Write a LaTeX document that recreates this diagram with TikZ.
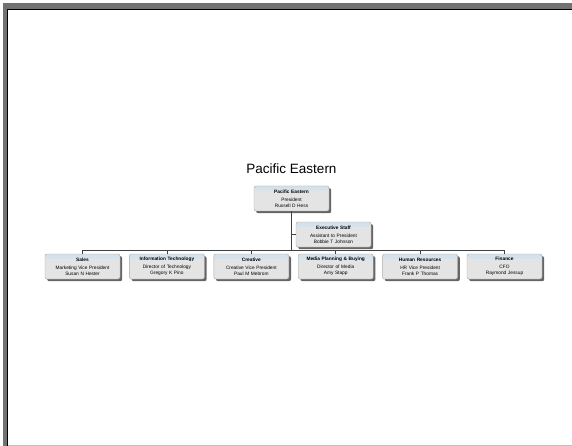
\documentclass[tikz,border=0pt]{standalone}
\usepackage{fontspec}
\setmainfont{Liberation Sans}
\usetikzlibrary{positioning, shadows}

\definecolor{boxfill}{HTML}{E4E4E4}
\definecolor{boxhead}{HTML}{D3E2EC}
\definecolor{boxline}{HTML}{A8A8A8}
\definecolor{framegray}{HTML}{727272}

\begin{document}
\begin{tikzpicture}[
  x=1pt, y=-1pt,
  node distance=9pt and 9pt,
  orgbox/.style={rectangle, rounded corners=2pt, draw=boxline, line width=0.4pt,
                 fill=boxfill, minimum width=75pt, minimum height=25pt,
                 text width=73pt, align=center, inner sep=1pt,
                 font=\fontsize{4.8}{5.8}\selectfont,
                 drop shadow={shadow xshift=2.2pt, shadow yshift=-2.2pt,
                              fill=black!60, opacity=1},
                 path picture={\fill[boxhead] (path picture bounding box.north west)
                   rectangle ([yshift=-4.5pt]path picture bounding box.north east);}},
  conn/.style={draw=black!75, line width=0.5pt},
  ttl/.style={font=\fontsize{13.5}{15}\selectfont}
]
\useasboundingbox (0,0) rectangle (572,446);

% window frame
\fill[framegray] (3,3) rectangle (572,10);
\fill[framegray] (3,3) rectangle (8,446);
\draw[black, line width=0.8pt] (7.4,446) -- (7.4,9.4) -- (572,9.4);
\draw[black!25, line width=0.8pt] (8,445) -- (572,445);

\node[ttl] (title) at (291.5,169) {Pacific Eastern};

\node[orgbox] (pe) at (291.5,198.5)
  {\textbf{Pacific Eastern}\\[2.5pt]President\\Russell D Hess};
\node[orgbox] (exec) at (333.5,234.5)
  {\textbf{Executive Staff}\\[2.5pt]Assistant to President\\Bobbie T Johnson};

\node[orgbox] (sales) at (82.5,266.5)
  {\textbf{Sales}\\[2.5pt]Marketing Vice President\\Susan N Hester};
\node[orgbox, right=of sales] (it)
  {\textbf{Information Technology}\\[2.5pt]Director of Technology\\Gregory K Pino};
\node[orgbox, right=of it] (creative)
  {\textbf{Creative}\\[2.5pt]Creative Vice President\\Paul M Mebrom};
\node[orgbox, right=of creative] (media)
  {\textbf{Media Planning \& Buying}\\[2.5pt]Director of Media\\Amy Stapp};
\node[orgbox, right=of media] (hr)
  {\textbf{Human Resources}\\[2.5pt]HR Vice President\\Frank P Thomas};
\node[orgbox, right=of hr] (finance)
  {\textbf{Finance}\\[2.5pt]CFO\\Raymond Jessup};

\coordinate (bus) at (0,250);

\draw[conn] (pe.south) -- (pe.south |- bus);
\draw[conn] (exec.west) -- (exec.west -| pe.south);
\draw[conn] (sales.north) -- (sales.north |- bus) -- (finance.north |- bus) -- (finance.north);
\foreach \n in {it, creative, media, hr}
  \draw[conn] (\n.north) -- (\n.north |- bus);

\end{tikzpicture}
\end{document}
